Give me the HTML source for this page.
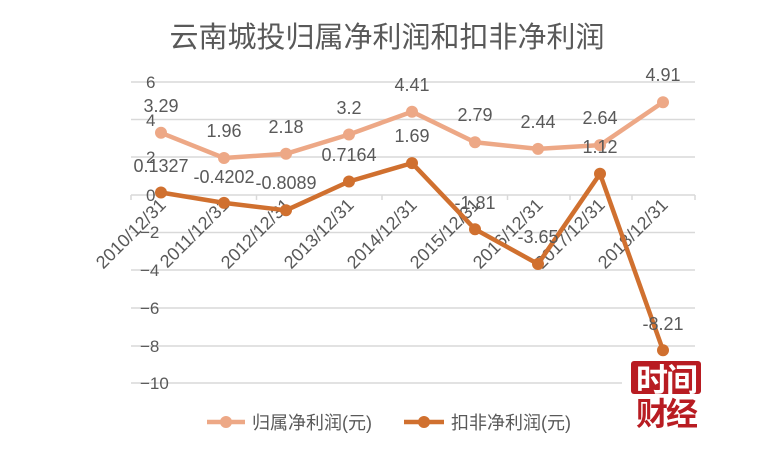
<!DOCTYPE html>
<html><head><meta charset="utf-8"><style>
html,body{margin:0;padding:0;background:#fff;}
svg{display:block;font-family:"Liberation Sans","Noto Sans CJK SC",sans-serif;}
</style></head><body>
<svg width="774" height="450" viewBox="0 0 774 450">
<text x="387" y="47" text-anchor="middle" font-size="29" fill="#595959">云南城投归属净利润和扣非净利润</text>
<g stroke="#d9d9d9" stroke-width="1.5">
<line x1="131" y1="82" x2="695" y2="82"/>
<line x1="131" y1="119.5" x2="695" y2="119.5"/>
<line x1="131" y1="157" x2="695" y2="157"/>
<line x1="131" y1="195" x2="695" y2="195"/>
<line x1="131" y1="232.5" x2="695" y2="232.5"/>
<line x1="131" y1="270" x2="695" y2="270"/>
<line x1="131" y1="308" x2="695" y2="308"/>
<line x1="131" y1="346" x2="695" y2="346"/>
<line x1="131" y1="383" x2="622" y2="383"/>
<line x1="131" y1="195" x2="131" y2="200"/><line x1="256.5" y1="195" x2="256.5" y2="200"/><line x1="382" y1="195" x2="382" y2="200"/><line x1="507.5" y1="195" x2="507.5" y2="200"/><line x1="570" y1="195" x2="570" y2="200"/><line x1="632" y1="195" x2="632" y2="200"/><line x1="695" y1="195" x2="695" y2="200"/>
</g>
<g font-size="17" fill="#595959">
<text x="146" y="88">6</text><text x="146" y="126">4</text><text x="146" y="163">2</text><text x="146" y="201">0</text>
<text x="140" y="238">−2</text><text x="140" y="276">−4</text><text x="140" y="314">−6</text><text x="140" y="352">−8</text><text x="140" y="389">−10</text>
</g>
<g font-size="18" fill="#595959" text-anchor="end">
<text transform="translate(167,206) rotate(-45)">2010/12/31</text>
<text transform="translate(230,206) rotate(-45)">2011/12/31</text>
<text transform="translate(292,206) rotate(-45)">2012/12/31</text>
<text transform="translate(355,206) rotate(-45)">2013/12/31</text>
<text transform="translate(418,206) rotate(-45)">2014/12/31</text>
<text transform="translate(481,206) rotate(-45)">2015/12/31</text>
<text transform="translate(544,206) rotate(-45)">2016/12/31</text>
<text transform="translate(606,206) rotate(-45)">2017/12/31</text>
<text transform="translate(669,206) rotate(-45)">2018/12/31</text>
</g>
<polyline fill="none" stroke="#eda886" stroke-width="4.5" stroke-linejoin="round" points="161,132.8 224,158 286,153.8 349,134.5 412,111.7 475,142.3 538,148.9 600,145.1 663,102.2"/>
<g fill="#eda886">
<circle cx="161" cy="132.8" r="6"/><circle cx="224" cy="158" r="6"/><circle cx="286" cy="153.8" r="6"/><circle cx="349" cy="134.5" r="6"/><circle cx="412" cy="111.7" r="6"/><circle cx="475" cy="142.3" r="6"/><circle cx="538" cy="148.9" r="6"/><circle cx="600" cy="145.1" r="6"/><circle cx="663" cy="102.2" r="6"/>
</g>
<polyline fill="none" stroke="#d0702f" stroke-width="4.5" stroke-linejoin="round" points="161,192.5 224,202.9 286,210.3 349,181.5 412,163.1 475,229.2 538,264 600,173.8 663,350.2"/>
<g fill="#d0702f">
<circle cx="161" cy="192.5" r="6"/><circle cx="224" cy="202.9" r="6"/><circle cx="286" cy="210.3" r="6"/><circle cx="349" cy="181.5" r="6"/><circle cx="412" cy="163.1" r="6"/><circle cx="475" cy="229.2" r="6"/><circle cx="538" cy="264" r="6"/><circle cx="600" cy="173.8" r="6"/><circle cx="663" cy="350.2" r="6"/>
</g>
<g font-size="18" fill="#595959" text-anchor="middle">
<text x="161" y="112">3.29</text><text x="224" y="137">1.96</text><text x="286" y="133">2.18</text><text x="349" y="114">3.2</text><text x="412" y="91">4.41</text><text x="475" y="121">2.79</text><text x="538" y="128">2.44</text><text x="600" y="124">2.64</text><text x="663" y="81">4.91</text>
<text x="161" y="172">0.1327</text><text x="224" y="183">-0.4202</text><text x="286" y="189">-0.8089</text><text x="349" y="161">0.7164</text><text x="412" y="142">1.69</text><text x="475" y="209">-1.81</text><text x="538" y="243">-3.65</text><text x="600" y="153">1.12</text><text x="663" y="330">-8.21</text>
</g>
<line x1="207" y1="422" x2="245" y2="422" stroke="#eda886" stroke-width="4.5"/><circle cx="226" cy="422" r="6" fill="#eda886"/>
<text x="252" y="429" font-size="18" fill="#595959">归属净利润(元)</text>
<line x1="404" y1="422" x2="444" y2="422" stroke="#d0702f" stroke-width="4.5"/><circle cx="424" cy="422" r="6" fill="#d0702f"/>
<text x="451" y="429" font-size="18" fill="#595959">扣非净利润(元)</text>
<rect x="631" y="361" width="70" height="33" rx="3" fill="#b81c22"/>
<text x="666" y="391" text-anchor="middle" font-size="32" font-weight="bold" fill="#fff" letter-spacing="-2">时间</text>
<text x="666" y="425" text-anchor="middle" font-size="32" font-weight="bold" fill="#b81c22" letter-spacing="-2">财经</text>
</svg>
</body></html>
